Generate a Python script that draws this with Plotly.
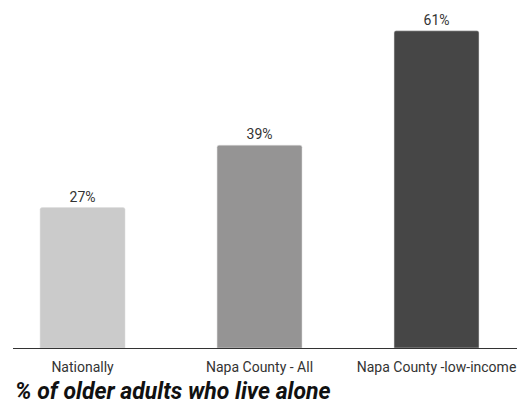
import plotly.graph_objects as go

categories = ["Nationally", "Napa County - All", "Napa County -low-income"]
values = [27, 39, 61]
labels = ["27%", "39%", "61%"]
colors = ["#cbcbcb", "#959494", "#464646"]

fig = go.Figure(go.Bar(
    x=categories, y=values, text=labels, textposition="outside",
    textfont=dict(family="Roboto", size=14, color="#333333"),
    marker=dict(color=colors, line=dict(color="#dddddd", width=0.5)),
    width=0.48, cliponaxis=False,
))

fig.update_layout(
    width=517, height=400,
    margin=dict(l=5, r=0, t=2, b=60),
    paper_bgcolor="white", plot_bgcolor="white",
    showlegend=False, barcornerradius=2,
    xaxis=dict(range=[-0.393, 2.5], showline=True, linecolor="#333333", linewidth=1,
               showgrid=False, ticks="", ticklabelstandoff=6,
               tickfont=dict(family="Roboto", size=14, color="#333333")),
    yaxis=dict(range=[0, 65], visible=False),
    annotations=[dict(text="<b><i>% of older adults who live alone</i></b>", xref="paper", yref="paper",
                      x=0, y=-0.128, xanchor="left", yanchor="middle", showarrow=False,
                      font=dict(family="Roboto", size=23, color="#111111"))],
)

fig.write_html("out.html")
